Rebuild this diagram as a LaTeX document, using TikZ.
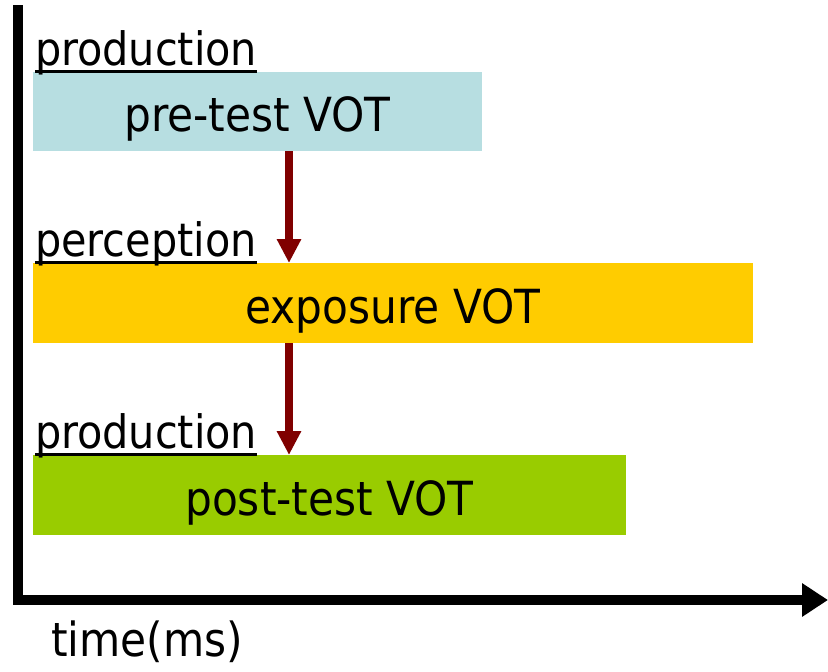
\documentclass[tikz,border=0pt]{standalone}
\usepackage{fontspec}
\setmainfont{DejaVu Sans Condensed}
\usetikzlibrary{arrows.meta,positioning}
\definecolor{preblue}{RGB}{183,222,225}
\definecolor{expgold}{RGB}{255,204,0}
\definecolor{postgreen}{RGB}{153,204,0}
\definecolor{darkred}{RGB}{128,0,0}
\begin{document}
\begin{tikzpicture}[x=1pt,y=-1pt,
    bar/.style={anchor=north west,inner sep=0pt,outer sep=0pt,text height=40pt,text depth=0pt,font=\fontsize{47}{56}\selectfont},
    phase/.style={anchor=base west,inner sep=0pt,outer sep=0pt,text depth=6pt,font=\fontsize{46}{55}\selectfont},
    uline/.style={line width=3pt},
    step arrow/.style={darkred,line width=8pt,-{Triangle[length=24pt,width=23pt]}},
    axis/.style={line width=10pt,-{Triangle[length=26pt,width=32pt]}}]
    \useasboundingbox (0,0) rectangle (828,672);

    \node[bar,fill=preblue,minimum width=449pt,minimum height=79pt] (pretest) at (33,72) {pre-test VOT};
    \node[bar,fill=expgold,minimum width=720pt,minimum height=80pt] (exposure) at (33,263) {exposure VOT};
    \node[bar,fill=postgreen,minimum width=593pt,minimum height=80pt] (posttest) at (33,455) {post-test VOT};

    \node[phase] (prod1) at ([shift={(2,-7)}]pretest.north west) {production};
    \node[phase] (perc) at ([shift={(2,-7)}]exposure.north west) {perception};
    \node[phase] (prod2) at ([shift={(2,-7)}]posttest.north west) {production};
    \draw[uline] (prod1.south west) -- (prod1.south east);
    \draw[uline] (perc.south west) -- (perc.south east);
    \draw[uline] (prod2.south west) -- (prod2.south east);

    \coordinate (arrx) at (289,0);
    \draw[step arrow] (pretest.south -| arrx) -- (exposure.north -| arrx);
    \draw[step arrow] (exposure.south -| arrx) -- (posttest.north -| arrx);

    \coordinate (top) at (17.5,5);
    \coordinate (origin) at (17.5,600);
    \coordinate (tend) at (828,600);
    \draw[axis] (top) -- (origin) -- (tend);

    \node[phase,text depth=0pt,font=\fontsize{47}{56}\selectfont] (time) at (51,656) {time(ms)};
  \end{tikzpicture}
\end{document}
